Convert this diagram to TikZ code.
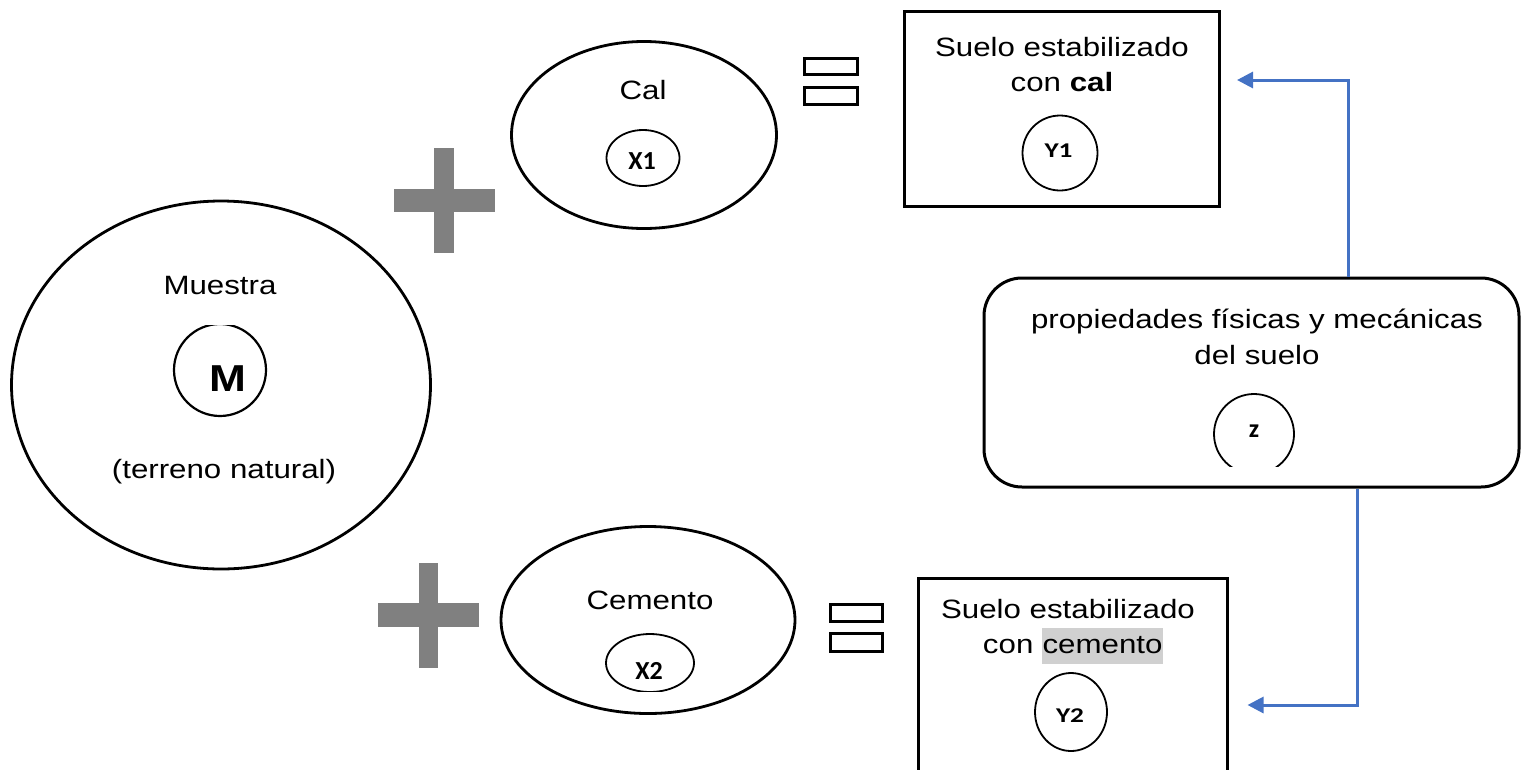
\documentclass[tikz,border=0pt]{standalone}
\usepackage{fontspec}
\setmainfont{Liberation Sans}[FakeStretch=1.18]
\newfontfamily\labfont{Carlito}
\newfontfamily\labwide{Carlito}[FakeStretch=1.3]
\usetikzlibrary{shapes.geometric,arrows.meta}
\definecolor{plusgray}{HTML}{808080}
\definecolor{flowblue}{HTML}{4472C4}
\definecolor{hlgray}{HTML}{D0D0D0}

\begin{document}
\begin{tikzpicture}[x=1pt,y=-1pt,
  oval/.style={ellipse,draw,line width=2.8pt,inner sep=0pt},
  boxed/.style={rectangle,draw,line width=3pt,inner sep=0pt},
  roundbox/.style={rectangle,draw,line width=3pt,rounded corners=38pt,inner sep=0pt},
  ring/.style={ellipse,draw,line width=1.8pt,inner sep=0pt},
  word/.style={anchor=base,inner sep=0pt,font=\fontsize{26.5}{35}\selectfont},
  idlab/.style={inner sep=0pt,font=\labfont\bfseries\fontsize{26}{30}\selectfont},
  idwide/.style={inner sep=0pt,font=\labwide\bfseries\fontsize{21}{25}\selectfont},
  flow/.style={draw=flowblue,line width=3pt,-{Triangle[length=16pt,width=16pt]}},
  eqbar/.style={draw,line width=3.2pt}]

\useasboundingbox (0,0) rectangle (1523,769);
\clip (0,0) rectangle (1523,769);

% natural soil sample
\node[oval,minimum width=419pt,minimum height=368pt] (muestra) at (221,385) {};
\node[word] (tMuestra) at (220,294) {Muestra};
\node[word] (tTerreno) at (224,478) {(terreno natural)};
\begin{scope}
  \clip (150,325) rectangle (300,430);
  \node[ring,line width=2.2pt,minimum width=92pt,minimum height=92pt] (ringM) at (220,370) {};
\end{scope}
\node[inner sep=0pt,font=\bfseries\fontsize{37.5}{40}\selectfont] (tM) at (228,378.5) {M};

% plus signs
\fill[plusgray] (434,148) rectangle (454,253);
\fill[plusgray] (394,189) rectangle (495,212);
\fill[plusgray] (419,563) rectangle (438,668);
\fill[plusgray] (378,603) rectangle (479,627);

% lime
\node[oval,minimum width=265pt,minimum height=187pt] (cal) at (644,135) {};
\node[word] (tCal) at (643,99) {Cal};
\node[ring,minimum width=73pt,minimum height=56pt] (ringX1) at (643,158) {};
\node[idlab] (tX1) at (642,161.5) {X1};

% cement
\node[oval,minimum width=294pt,minimum height=187pt] (cemento) at (648,620) {};
\node[word] (tCemento) at (650,609) {Cemento};
\begin{scope}
  \clip (590,620) rectangle (710,691);
  \node[ring,minimum width=88pt,minimum height=58pt] (ringX2) at (650,663) {};
\end{scope}
\node[idlab] (tX2) at (649,670.5) {X2};

% equals signs
\draw[eqbar] (804.5,58.5) rectangle (857.5,74.5);
\draw[eqbar] (804.5,87.5) rectangle (857.5,104.5);
\draw[eqbar] (830.5,604.5) rectangle (882.5,621.5);
\draw[eqbar] (830.5,633.5) rectangle (882.5,651.5);

% stabilised soil with lime
\node[boxed,minimum width=315pt,minimum height=195pt] (boxA) at (1062,108.5) {};
\node[word] (tA1) at (1062,56) {Suelo estabilizado};
\node[word] (tA2) at (1062,91) {con \textbf{cal}};
\node[ring,minimum width=75pt,minimum height=75pt] (ringY1) at (1060,153) {};
\node[idwide] (tY1) at (1058.5,151) {Y1};

% stabilised soil with cement
\node[boxed,minimum width=309pt,minimum height=254pt] (boxB) at (1072.5,705) {};
\node[word] (tB1) at (1068,618) {Suelo estabilizado};
\node[word] (tB2) at (1073,653) {con {\setlength\fboxsep{0.5pt}\colorbox{hlgray}{\strut cemento}}};
\node[ring,minimum width=72pt,minimum height=78pt] (ringY2) at (1071,712) {};
\node[idwide] (tY2) at (1070,716) {Y2};

% soil properties
\node[roundbox,minimum width=535pt,minimum height=209pt] (prop) at (1251.5,382.5) {};
\node[word] (tP1) at (1257,328) {propiedades físicas y mecánicas};
\node[word] (tP2) at (1257,364) {del suelo};
\begin{scope}
  \clip (1200,380) rectangle (1310,466);
  \node[ring,minimum width=80pt,minimum height=80pt] (ringZ) at (1254,434) {};
\end{scope}
\node[idlab] (tZ) at (1254,431) {z};

% links to both results
\draw[flow,shorten >=16pt] (prop.north) ++(96.5,0) |- ([yshift=28.5pt]boxA.east);
\draw[flow,shorten >=19pt] (prop.south) ++(105.5,0) |- (boxB.east);
\end{tikzpicture}
\end{document}
